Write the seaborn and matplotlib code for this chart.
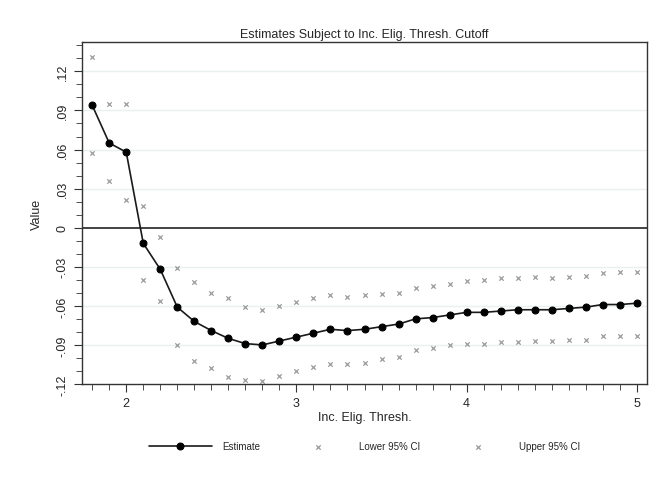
import numpy as np
import pandas as pd
import matplotlib
matplotlib.use("Agg")
import matplotlib.pyplot as plt
import seaborn as sns
from matplotlib.ticker import MultipleLocator, FuncFormatter

sns.set_style("ticks")
plt.rcParams['font.family'] = ['Liberation Sans', 'DejaVu Sans']

# thresholds 1.8 .. 5.0 in steps of 0.1
thresh = [round(1.8 + 0.1 * i, 1) for i in range(33)]

estimate = [0.094, 0.065, 0.058, -0.012, -0.032, -0.061, -0.072, -0.079, -0.085, -0.089,
            -0.090, -0.087, -0.084, -0.081, -0.078, -0.079, -0.078, -0.076, -0.074, -0.070,
            -0.069, -0.067, -0.065, -0.065, -0.064, -0.063, -0.063, -0.063, -0.062, -0.061,
            -0.059, -0.059, -0.058]

lower_ci = [0.057, 0.036, 0.021, -0.040, -0.056, -0.090, -0.102, -0.108, -0.115, -0.117,
            -0.118, -0.114, -0.110, -0.107, -0.105, -0.105, -0.104, -0.101, -0.099, -0.094,
            -0.092, -0.090, -0.089, -0.089, -0.088, -0.088, -0.087, -0.087, -0.086, -0.086,
            -0.083, -0.083, -0.083]

upper_ci = [0.131, 0.095, 0.095, 0.017, -0.007, -0.031, -0.042, -0.050, -0.054, -0.061,
            -0.063, -0.060, -0.057, -0.054, -0.052, -0.053, -0.052, -0.051, -0.050, -0.046,
            -0.045, -0.043, -0.041, -0.040, -0.039, -0.039, -0.038, -0.039, -0.038, -0.037,
            -0.035, -0.034, -0.034]

df = pd.DataFrame({"thresh": thresh, "Estimate": estimate,
                   "Lower 95% CI": lower_ci, "Upper 95% CI": upper_ci})

fig = plt.figure(figsize=(6.57, 4.85), dpi=100)
ax = fig.add_axes([0.1248, 0.2062, 0.86, 0.705])

# light horizontal grid
for v in [-0.09, -0.06, -0.03, 0.03, 0.06, 0.09, 0.12]:
    ax.axhline(v, color="#e8f0f2", lw=1.0, zorder=0)
ax.axhline(0, color="#222222", lw=1.2, zorder=1)

sns.scatterplot(data=df, x="thresh", y="Lower 95% CI", ax=ax, marker="x", s=10,
                color="#9a9a9a", linewidth=0.9, label="Lower 95% CI", zorder=2)
sns.scatterplot(data=df, x="thresh", y="Upper 95% CI", ax=ax, marker="x", s=10,
                color="#9a9a9a", linewidth=0.9, label="Upper 95% CI", zorder=2)
sns.lineplot(data=df, x="thresh", y="Estimate", ax=ax, color="#1a1a1a", lw=1.2,
             marker="o", markersize=5, markeredgecolor="black", markerfacecolor="black",
             label="Estimate", zorder=3)

ax.set_xlim(1.74, 5.06)
ax.set_ylim(-0.12, 0.1425)
ax.set_xticks([2, 3, 4, 5])
ax.xaxis.set_minor_locator(MultipleLocator(0.1))
ax.set_yticks([-0.12, -0.09, -0.06, -0.03, 0, 0.03, 0.06, 0.09, 0.12])
ax.yaxis.set_minor_locator(MultipleLocator(0.01))


def fmt(v, pos):
    if abs(v) < 1e-9:
        return "0"
    s = f"{v:.2f}".rstrip("0")
    return s.replace("0.", ".")


ax.yaxis.set_major_formatter(FuncFormatter(fmt))
ax.tick_params(axis="y", which="major", labelrotation=90, labelsize=9, length=6, color="#333333")
ax.tick_params(axis="x", which="major", labelsize=9, length=6, color="#333333")
ax.tick_params(which="minor", length=4, color="#333333")
for lab in ax.get_yticklabels():
    lab.set_va("center")

for sp in ax.spines.values():
    sp.set_color("#333333")
    sp.set_linewidth(1.0)

ax.set_xlabel("Inc. Elig. Thresh.", fontsize=9, labelpad=1)
ax.set_ylabel("Value", fontsize=9, labelpad=10)
ax.set_title("Estimates Subject to Inc. Elig. Thresh. Cutoff", fontsize=9, pad=4)

handles, labels = ax.get_legend_handles_labels()
order = [labels.index("Estimate"), labels.index("Lower 95% CI"), labels.index("Upper 95% CI")]
ax.get_legend().remove()
fig.legend([handles[i] for i in order], [labels[i] for i in order], loc="center",
           bbox_to_anchor=(0.555, 0.078), ncol=3, frameon=False, fontsize=7,
           handlelength=6.5, columnspacing=2.7, handletextpad=1.0)

fig.savefig("out.png", dpi=100)
